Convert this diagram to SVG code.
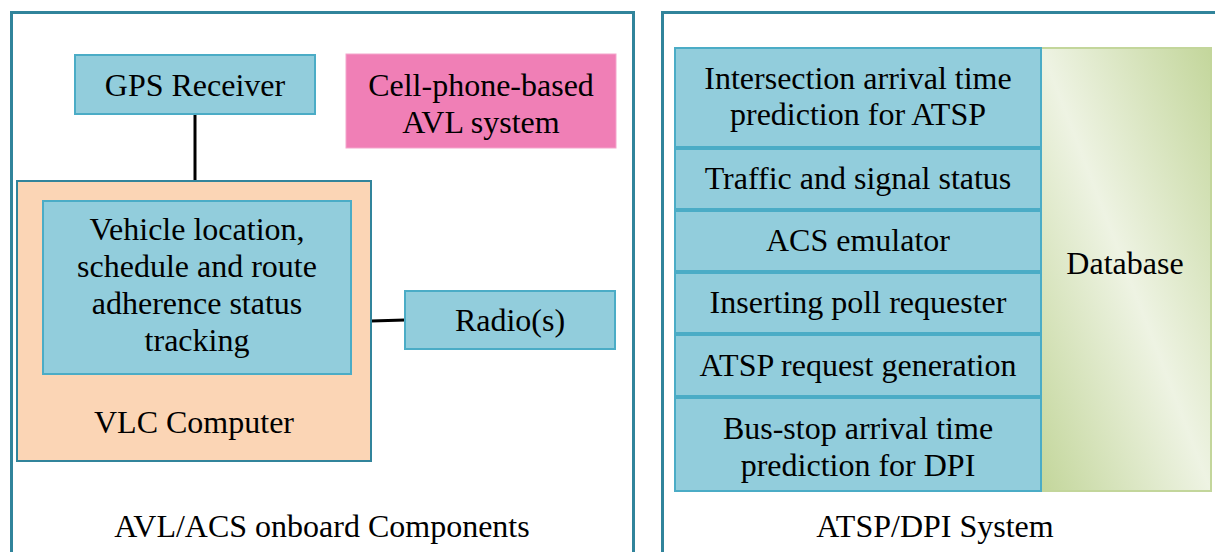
<svg xmlns="http://www.w3.org/2000/svg" width="1215" height="552" viewBox="0 0 1215 552">
<defs>
<linearGradient id="dbg" x1="1" y1="0" x2="0" y2="1">
<stop offset="0" stop-color="#c3d69b"/>
<stop offset="0.5" stop-color="#eef3e3"/>
<stop offset="1" stop-color="#c3d69b"/>
</linearGradient>
<style>
.frame{fill:#fff;stroke:#31849b;stroke-width:3}
.blue{fill:#92cddc;stroke:#4bacc6;stroke-width:2}
.peach{fill:#fbd5b5;stroke:#31849b;stroke-width:2}
.pink{fill:#f07fb6;stroke:#f4a6cc;stroke-width:1}
.db{fill:url(#dbg);stroke:#c3d69b;stroke-width:2}
.conn{stroke:#000;stroke-width:3;fill:none}
.t{font-size:32px;fill:#000;text-anchor:middle}
</style>
</defs>
<g font-family="Liberation Serif, Times New Roman, serif">
<g id="frame-left"><rect class="frame" x="11.5" y="12.5" width="622" height="560"/><text class="t" x="322" y="537">AVL/ACS onboard Components</text></g>
<g id="frame-right"><rect class="frame" x="662.5" y="12.5" width="580" height="560"/><text class="t" x="935" y="537">ATSP/DPI System</text></g>
<g id="connectors">
<line class="conn" x1="195" y1="114" x2="195" y2="181"/>
<line class="conn" x1="371" y1="321" x2="405" y2="320"/>
</g>
<g id="gps"><rect class="blue" x="75" y="55" width="240" height="59"/><text class="t" x="195" y="96">GPS Receiver</text></g>
<g id="cellphone"><rect class="pink" x="346" y="54" width="270" height="94"/><text class="t" x="481" y="96">Cell-phone-based</text><text class="t" x="481" y="133">AVL system</text></g>
<g id="vlc"><rect class="peach" x="17" y="181" width="354" height="280"/><text class="t" x="194" y="433">VLC Computer</text></g>
<g id="tracking"><rect class="blue" x="43" y="201" width="308" height="173"/><text class="t" x="197" y="240">Vehicle location,</text><text class="t" x="197" y="277">schedule and route</text><text class="t" x="197" y="314">adherence status</text><text class="t" x="197" y="351">tracking</text></g>
<g id="radio"><rect class="blue" x="405" y="291" width="210" height="58"/><text class="t" x="510" y="331">Radio(s)</text></g>
<g id="database"><rect class="db" x="1041" y="48" width="170" height="443"/><text class="t" x="1125" y="274">Database</text></g>
<g id="row1"><rect class="blue" x="675" y="48" width="366" height="99"/><text class="t" x="858" y="89">Intersection arrival time</text><text class="t" x="858" y="125">prediction for ATSP</text></g>
<g id="row2"><rect class="blue" x="675" y="149" width="366" height="60"/><text class="t" x="858" y="189">Traffic and signal status</text></g>
<g id="row3"><rect class="blue" x="675" y="211" width="366" height="60"/><text class="t" x="858" y="251">ACS emulator</text></g>
<g id="row4"><rect class="blue" x="675" y="273" width="366" height="60"/><text class="t" x="858" y="313">Inserting poll requester</text></g>
<g id="row5"><rect class="blue" x="675" y="335" width="366" height="61"/><text class="t" x="858" y="376">ATSP request generation</text></g>
<g id="row6"><rect class="blue" x="675" y="398" width="366" height="93"/><text class="t" x="858" y="439">Bus-stop arrival time</text><text class="t" x="858" y="476">prediction for DPI</text></g>
</g>
</svg>
